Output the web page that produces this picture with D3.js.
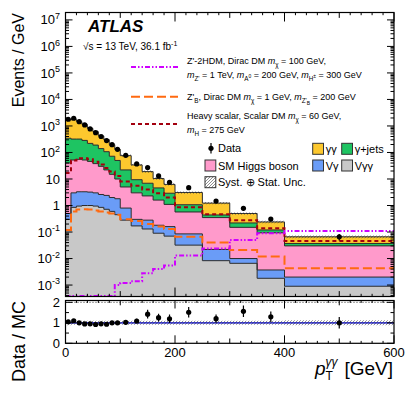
<!DOCTYPE html>
<html>
<head>
<meta charset="utf-8">
<script src="https://cdn.jsdelivr.net/npm/d3@7"></script>
<style>
body { margin: 0; background: #fff; }
svg { display: block; font-family: "Liberation Sans", Arial, Helvetica, sans-serif; }
</style>
</head>
<body>
<svg id="chart" width="407" height="395"></svg>
<script>
// bins in pT(gamma gamma), GeV
const binEdges = [0, 10, 20, 30, 40, 50, 60, 70, 80, 90, 100, 120, 140, 160, 180, 200, 250, 300, 350, 400, 600];

// background components, events / GeV (stacked bottom -> top)
const vgg   = [0.3, 0.85, 0.95, 1.0, 1.0, 0.95, 0.85, 0.72, 0.6, 0.45, 0.28, 0.17, 0.13, 0.09, 0.07, 0.032, 0.0083, 0.0066, 0.0018, 0.0009];
const vg    = [0.2, 2.15, 2.35, 2.3, 2.2, 2.05, 1.75, 1.68, 1.4, 1.35, 0.52, 0.13, 0.15, 0.09, 0.09, 0.053, 0.0137, 0.0034, 0.0019, 0.0011];
const higgs = [39.5, 49, 51.7, 48.7, 42.8, 35, 27.4, 19.6, 13, 8.2, 4.2, 2.7, 2.02, 1.42, 0.94, 0.485, 0.328, 0.14, 0.09, 0.028];
const gjets = [304, 268, 265, 233, 174, 152, 110, 85, 57, 40, 17, 6.4, 4.6, 3.0, 1.8, 0.5, 0.09, 0.07, 0.026, 0.007];
const gg    = [1356, 1450, 1130, 865, 590, 420, 280, 196, 124, 81, 54, 24.6, 12.1, 5.8, 3.35, 2.03, 0.79, 0.28, 0.12, 0.029];

// relative syst+stat uncertainty on the background
const uncRel = [0.12, 0.1, 0.1, 0.1, 0.1, 0.1, 0.1, 0.1, 0.1, 0.1, 0.1, 0.1, 0.1, 0.1, 0.1, 0.1, 0.1, 0.1, 0.1, 0.12];

// data, events / GeV, and relative error
const dataVals = [1790, 1950, 1450, 1090, 770, 560, 400, 282, 196, 131, 78, 37, 27, 13, 7.5, 4.7, 1.48, 0.78, 0.31, 0.066];
const dataErr  = [0.06, 0.06, 0.06, 0.06, 0.06, 0.06, 0.06, 0.06, 0.06, 0.06, 0.08, 0.1, 0.15, 0.15, 0.17, 0.17, 0.17, 0.18, 0.2, 0.28];

// signal overlays
const sigZp2hdm = [3.9e-4, 3.9e-4, 3.9e-4, 3.9e-4, 3.9e-4, 3.9e-4, 3.9e-4, 3.9e-4, 3.9e-4, 1.0e-3, 1.2e-3, 1.4e-3, 2.8e-3, 4.0e-3, 5.5e-3, 0.013, 0.024, 0.05, 0.09, 0.11];
const sigZpB    = [0.12, 0.6, 0.7, 0.72, 0.7, 0.65, 0.6, 0.55, 0.5, 0.45, 0.3, 0.26, 0.2, 0.16, 0.13, 0.066, 0.04, 0.021, 0.012, 0.0043];
const sigScalar = [17, 50, 60, 60, 55, 45, 35, 26, 19, 13, 8, 5.5, 4, 2.9, 2.0, 0.85, 0.47, 0.28, 0.14, 0.046];

const bkgKeys   = ["vgg", "vg", "higgs", "gjets", "gg"];
const bkgColors = { vgg: "#c8c8c8", vg: "#6a9cf7", higgs: "#ff9acb", gjets: "#1ec462", gg: "#fdc82e" };

const table = binEdges.slice(0, -1).map((lo, i) => ({
    lo: lo, hi: binEdges[i + 1],
    vgg: vgg[i], vg: vg[i], higgs: higgs[i], gjets: gjets[i], gg: gg[i]
}));
const stacked = d3.stack().keys(bkgKeys)(table);
const total = table.map(d => bkgKeys.reduce((s, k) => s + d[k], 0));

const svg = d3.select("#chart");

const x = d3.scaleLinear().domain([0, 600]).range([65.5, 394]);
const y = d3.scaleLog().domain([3.7e-4, 1.9e7]).range([296.5, 12.5]).clamp(true);
const yr = d3.scaleLinear().domain([0, 2.09]).range([343.3, 300.5]);

const [mx0, mx1] = x.range();
const [my1, my0] = y.range();
const [ry1, ry0] = yr.range();

// hatch pattern
const defs = svg.append("defs");
const pat = defs.append("pattern")
    .attr("id", "hatch").attr("patternUnits", "userSpaceOnUse")
    .attr("width", 3).attr("height", 3);
pat.append("path").attr("d", "M-1,1 l2,-2 M0,3 l3,-3 M2,4 l2,-2")
    .attr("stroke", "#444").attr("stroke-width", 0.6);

defs.append("clipPath").attr("id", "clipMain")
    .append("rect").attr("x", mx0).attr("y", my0).attr("width", mx1 - mx0).attr("height", my1 - my0);
defs.append("clipPath").attr("id", "clipRatio")
    .append("rect").attr("x", mx0).attr("y", ry0).attr("width", mx1 - mx0).attr("height", ry1 - ry0);

// step helpers
function stepPoints(vals) {
    const pts = [];
    vals.forEach((v, i) => { pts.push([binEdges[i], v]); pts.push([binEdges[i + 1], v]); });
    return pts;
}
function stepBand(lo, hi) {
    const pts = [];
    lo.forEach((v, i) => {
        pts.push([binEdges[i], v, hi[i]]);
        pts.push([binEdges[i + 1], v, hi[i]]);
    });
    return pts;
}
const safe = v => Math.max(v, 1e-6);

// ---------- main panel ----------
const main = svg.append("g").attr("clip-path", "url(#clipMain)");

const bandArea = (ys) => d3.area()
    .x(d => x(d[0]))
    .y0(d => ys(d[1]))
    .y1(d => ys(d[2]));

stacked.forEach(s => {
    const lo = s.map(d => safe(d[0]));
    const hi = s.map(d => safe(d[1]));
    main.append("path")
        .attr("d", bandArea(v => y(safe(v)))(stepBand(lo, hi)))
        .attr("fill", bkgColors[s.key]);
});

const stepLine = (ys) => d3.line().x(d => x(d[0])).y(d => ys(d[1]));

stacked.forEach(s => {
    main.append("path")
        .attr("d", stepLine(v => y(safe(v)))(stepPoints(s.map(d => d[1]))))
        .attr("fill", "none").attr("stroke", "#2b2b2b").attr("stroke-width", 1);
});

// uncertainty band
main.append("path")
    .attr("d", bandArea(v => y(safe(v)))(stepBand(
        total.map((t, i) => t * (1 - uncRel[i])),
        total.map((t, i) => t * (1 + uncRel[i])))))
    .attr("fill", "url(#hatch)");

// signals
const signals = [
    { vals: sigScalar, color: "#a3000f", dash: "4,3", w: 2 },
    { vals: sigZpB, color: "#ff6a10", dash: "9,4", w: 2 },
    { vals: sigZp2hdm, color: "#cf00ff", dash: "5,2,1.5,2,1.5,2", w: 2 }
];
signals.forEach(sg => {
    main.append("path")
        .attr("d", stepLine(v => y(safe(v)))(stepPoints(sg.vals)))
        .attr("fill", "none").attr("stroke", sg.color)
        .attr("stroke-width", sg.w).attr("stroke-dasharray", sg.dash);
});

// data points
const centers = table.map(d => (d.lo + d.hi) / 2);
const dg = main.append("g");
dg.selectAll("line").data(dataVals).join("line")
    .attr("x1", (d, i) => x(centers[i])).attr("x2", (d, i) => x(centers[i]))
    .attr("y1", (d, i) => y(d * (1 - dataErr[i]))).attr("y2", (d, i) => y(d * (1 + dataErr[i])))
    .attr("stroke", "#000").attr("stroke-width", 1.2);
dg.selectAll("circle").data(dataVals).join("circle")
    .attr("cx", (d, i) => x(centers[i])).attr("cy", d => y(d)).attr("r", 2.6).attr("fill", "#000");

// ---------- ratio panel ----------
const ratio = svg.append("g").attr("clip-path", "url(#clipRatio)");
ratio.append("line")
    .attr("x1", mx0).attr("x2", mx1).attr("y1", yr(1)).attr("y2", yr(1))
    .attr("stroke", "#3a3ad8").attr("stroke-width", 1.8);
ratio.append("path")
    .attr("d", bandArea(yr)(stepBand(uncRel.map(u => 1 - u), uncRel.map(u => 1 + u))))
    .attr("fill", "url(#hatch)");
ratio.append("line")
    .attr("x1", mx0).attr("x2", mx1).attr("y1", yr(2)).attr("y2", yr(2))
    .attr("stroke", "#000").attr("stroke-width", 0.8).attr("stroke-dasharray", "1,2");

const ratioVals = dataVals.map((d, i) => d / total[i]);
ratio.selectAll("line.err").data(ratioVals).join("line").attr("class", "err")
    .attr("x1", (d, i) => x(centers[i])).attr("x2", (d, i) => x(centers[i]))
    .attr("y1", (d, i) => yr(d * (1 - dataErr[i]))).attr("y2", (d, i) => yr(d * (1 + dataErr[i])))
    .attr("stroke", "#000").attr("stroke-width", 1.2);
ratio.selectAll("circle").data(ratioVals).join("circle")
    .attr("cx", (d, i) => x(centers[i])).attr("cy", d => yr(d)).attr("r", 2.6).attr("fill", "#000");

// ---------- frames and ticks ----------
function frame(y0, y1) {
    svg.append("rect").attr("x", mx0).attr("y", y0).attr("width", mx1 - mx0).attr("height", y1 - y0)
        .attr("fill", "none").attr("stroke", "#000").attr("stroke-width", 1.2);
}
frame(my0, my1);
frame(ry0, ry1);

const ticks = svg.append("g").attr("stroke", "#000").attr("stroke-width", 1);
function xTicks(y0, y1, big) {
    d3.range(0, 601, 20).forEach(v => {
        const len = v % 200 === 0 ? big : (v % 100 === 0 ? big * 0.6 : big * 0.3);
        ticks.append("line").attr("x1", x(v)).attr("x2", x(v)).attr("y1", y1).attr("y2", y1 - len);
        ticks.append("line").attr("x1", x(v)).attr("x2", x(v)).attr("y1", y0).attr("y2", y0 + len);
    });
}
xTicks(my0, my1, 9);
xTicks(ry0, ry1, 8);

y.ticks(40).forEach(v => {
    const lg = Math.log10(v);
    const major = Math.abs(lg - Math.round(lg)) < 1e-9;
    const len = major ? 7 : 3.5;
    ticks.append("line").attr("x1", mx0).attr("x2", mx0 + len).attr("y1", y(v)).attr("y2", y(v));
    ticks.append("line").attr("x1", mx1).attr("x2", mx1 - len).attr("y1", y(v)).attr("y2", y(v));
});
d3.range(0, 2.01, 0.5).forEach(v => {
    const len = v % 1 === 0 ? 7 : 3.5;
    ticks.append("line").attr("x1", mx0).attr("x2", mx0 + len).attr("y1", yr(v)).attr("y2", yr(v));
    ticks.append("line").attr("x1", mx1).attr("x2", mx1 - len).attr("y1", yr(v)).attr("y2", yr(v));
});

// ---------- tick labels ----------
const lab = svg.append("g").attr("font-size", 13).attr("fill", "#000");
y.ticks(40).filter(v => Math.abs(Math.log10(v) - Math.round(Math.log10(v))) < 1e-9).forEach(v => {
    const p = Math.round(Math.log10(v));
    const t = lab.append("text").attr("x", 60).attr("y", y(v) + 4.6).attr("text-anchor", "end");
    if (p === 0) t.text("1");
    else if (p === 1) t.text("10");
    else {
        t.append("tspan").text("10");
        t.append("tspan").attr("dy", -5.5).attr("font-size", 9).text(p < 0 ? "-" + (-p) : p);
    }
});
[0, 1, 2].forEach(v => {
    lab.append("text").attr("x", 60).attr("y", yr(v) + 4.6).attr("text-anchor", "end").text(v);
});
[0, 200, 400, 600].forEach(v => {
    lab.append("text").attr("x", x(v)).attr("y", ry1 + 14).attr("text-anchor", "middle").text(v);
});

// ---------- axis titles ----------
svg.append("text").attr("transform", "translate(24,13) rotate(-90)")
    .attr("text-anchor", "end").attr("font-size", 16).text("Events / GeV");
svg.append("text").attr("transform", "translate(25,301) rotate(-90)")
    .attr("text-anchor", "end").attr("font-size", 18).text("Data / MC");

const xt = svg.append("text").attr("x", 315).attr("y", 375).attr("font-size", 19);
xt.append("tspan").attr("font-style", "italic").text("p");
xt.append("tspan").attr("font-size", 12).attr("dy", 5).text("T");
xt.append("tspan").attr("font-size", 12).attr("dx", -7.3).attr("dy", -14).attr("font-style", "italic").text("γγ");
svg.append("text").attr("x", 393).attr("y", 375).attr("font-size", 19).attr("text-anchor", "end").text("[GeV]");

// ---------- labels & legend ----------
svg.append("text").attr("x", 88).attr("y", 32).attr("font-size", 17)
    .attr("font-weight", "bold").attr("font-style", "italic").text("ATLAS");

function rich(x0, y0, parts, size) {
    const t = svg.append("text").attr("x", x0).attr("y", y0).attr("font-size", size);
    let shift = 0;
    parts.forEach(([s, m]) => {
        const mode = m || "";
        let target = 0, scale = 1;
        if (mode.includes("sub2")) { target = size * 0.5; scale = 0.55; }
        else if (mode.includes("subsup")) { target = size * 0.05; scale = 0.55; }
        else if (mode.includes("sub")) { target = size * 0.3; scale = 0.7; }
        else if (mode.includes("sup")) { target = -size * 0.4; scale = 0.7; }
        const ts = t.append("tspan").text(s).attr("dy", target - shift);
        shift = target;
        if (scale !== 1) ts.attr("font-size", size * scale);
        if (mode.split(" ").includes("it")) ts.attr("font-style", "italic");
    });
    return t;
}

rich(83, 50, [["√s = 13 TeV, 36.1 fb"], ["-1", "sup"]], 10);

const fs = 9;
rich(187, 64, [["Z'-2HDM, Dirac DM "], ["m", "it"], ["χ", "sub"], [" = 100 GeV,"]], fs);
rich(187, 78, [["m", "it"], ["Z'", "sub"], [" = 1 TeV, "], ["m", "it"], ["A", "sub"], ["0", "subsup"],
    [" = 200 GeV, "], ["m", "it"], ["H", "sub"], ["±", "subsup"], [" = 300 GeV"]], fs);
rich(187, 100, [["Z'"], ["B", "sub"], [", Dirac DM "], ["m", "it"], ["χ", "sub"], [" = 1 GeV, "],
    ["m", "it"], ["Z'", "sub"], ["B", "sub2"], [" = 200 GeV"]], fs);
rich(187, 119, [["Heavy scalar, Scalar DM "], ["m", "it"], ["χ", "sub"], [" = 60 GeV,"]], fs);
rich(187, 133, [["m", "it"], ["H", "sub"], [" = 275 GeV"]], fs);

const sigLeg = [
    { y: 67, color: "#cf00ff", dash: "5,2,1.5,2,1.5,2" },
    { y: 96.7, color: "#ff6a10", dash: "9,4" },
    { y: 124, color: "#a3000f", dash: "4,3" }
];
sigLeg.forEach(s => {
    svg.append("line").attr("x1", 131).attr("x2", 178).attr("y1", s.y).attr("y2", s.y)
        .attr("stroke", s.color).attr("stroke-width", 2).attr("stroke-dasharray", s.dash);
});

// data legend
svg.append("line").attr("x1", 211).attr("x2", 211).attr("y1", 143).attr("y2", 153.5)
    .attr("stroke", "#000").attr("stroke-width", 1.2);
svg.append("circle").attr("cx", 211).attr("cy", 148.3).attr("r", 2.6).attr("fill", "#000");
svg.append("text").attr("x", 218).attr("y", 152.3).attr("font-size", 11).text("Data");

const boxes = [
    { x: 205, y: 160, fill: bkgColors.higgs, label: "SM Higgs boson" },
    { x: 205, y: 176.7, fill: "url(#hatch)", label: "Syst. ⊕ Stat. Unc." },
    { x: 312.7, y: 143.3, fill: bkgColors.gg, label: "γγ" },
    { x: 341.7, y: 143.3, fill: bkgColors.gjets, label: "γ+jets" },
    { x: 312.7, y: 160, fill: bkgColors.vg, label: "Vγ" },
    { x: 341.7, y: 160, fill: bkgColors.vgg, label: "Vγγ" }
];
boxes.forEach(b => {
    svg.append("rect").attr("x", b.x).attr("y", b.y).attr("width", 10.8).attr("height", 11)
        .attr("fill", b.fill).attr("stroke", "#333").attr("stroke-width", 1);
    svg.append("text").attr("x", b.x + 13).attr("y", b.y + 9.5).attr("font-size", 11).text(b.label);
});
</script>
</body>
</html>
